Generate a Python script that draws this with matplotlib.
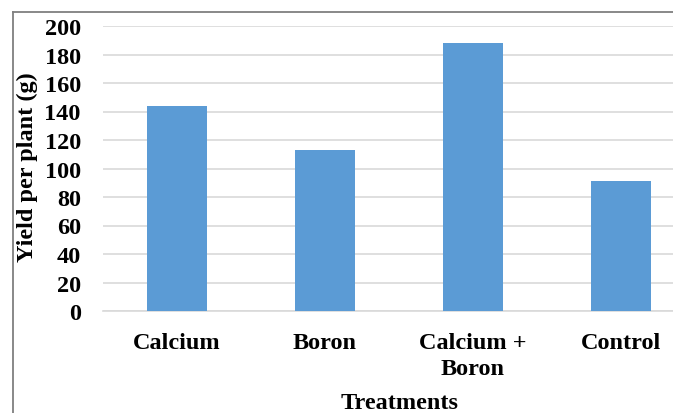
import numpy as np
import matplotlib.pyplot as plt
from matplotlib.lines import Line2D

treatments = ['Calcium', 'Boron', 'Calcium +\nBoron', 'Control']
yield_g = [144, 113, 188, 91]
y_ticks = [0, 20, 40, 60, 80, 100, 120, 140, 160, 180, 200]

plt.rcParams['font.family'] = ['Liberation Serif', 'DejaVu Serif']
plt.rcParams['font.weight'] = 'bold'

W, H = 673, 414
fig = plt.figure(figsize=(W / 100, H / 100), dpi=100)
# plot area runs past the right edge of the image (cropped original)
ax = fig.add_axes([103 / W, 1 - 312 / H, 592 / W, 285 / H])

x = np.arange(len(treatments))
ax.bar(x, yield_g, width=0.405, color='#5b9bd5', zorder=3)

ax.set_xlim(-0.5, len(treatments) - 0.5)
ax.set_ylim(0, 200)
ax.set_yticks(y_ticks)
ax.set_xticks(x)
ax.set_xticklabels(treatments, fontsize=17.5, fontweight='bold', linespacing=1.35, va='top')
ax.tick_params(axis='y', length=0, pad=16, labelsize=17.5)
ax.tick_params(axis='x', length=0, pad=15)
ax.grid(axis='y', color='#d9d9d9', linewidth=1.2, zorder=0)
for s in ['top', 'right', 'left']:
    ax.spines[s].set_visible(False)
ax.spines['bottom'].set_color('#d9d9d9')
ax.spines['bottom'].set_linewidth(1.2)

ax.set_xlabel('Treatments', fontsize=17.5, fontweight='bold')
ax.set_ylabel('Yield per plant (g)', fontsize=17.5, fontweight='bold')
ax.xaxis.set_label_coords((400 - 103) / 592, -(404 - 312) / 285)
ax.yaxis.set_label_coords(-(103 - 27) / 592, (312 - 167) / 285)
ax.xaxis.label.set_va('center')
ax.yaxis.label.set_va('center')

# chart border (only top and left visible in the crop)
fig.add_artist(Line2D([13 / W, 1], [1 - 13 / H, 1 - 13 / H], color='#7f7f7f', lw=1.3))
fig.add_artist(Line2D([13 / W, 13 / W], [0, 1 - 13 / H], color='#7f7f7f', lw=1.3))

fig.savefig('out.png', dpi=100)
